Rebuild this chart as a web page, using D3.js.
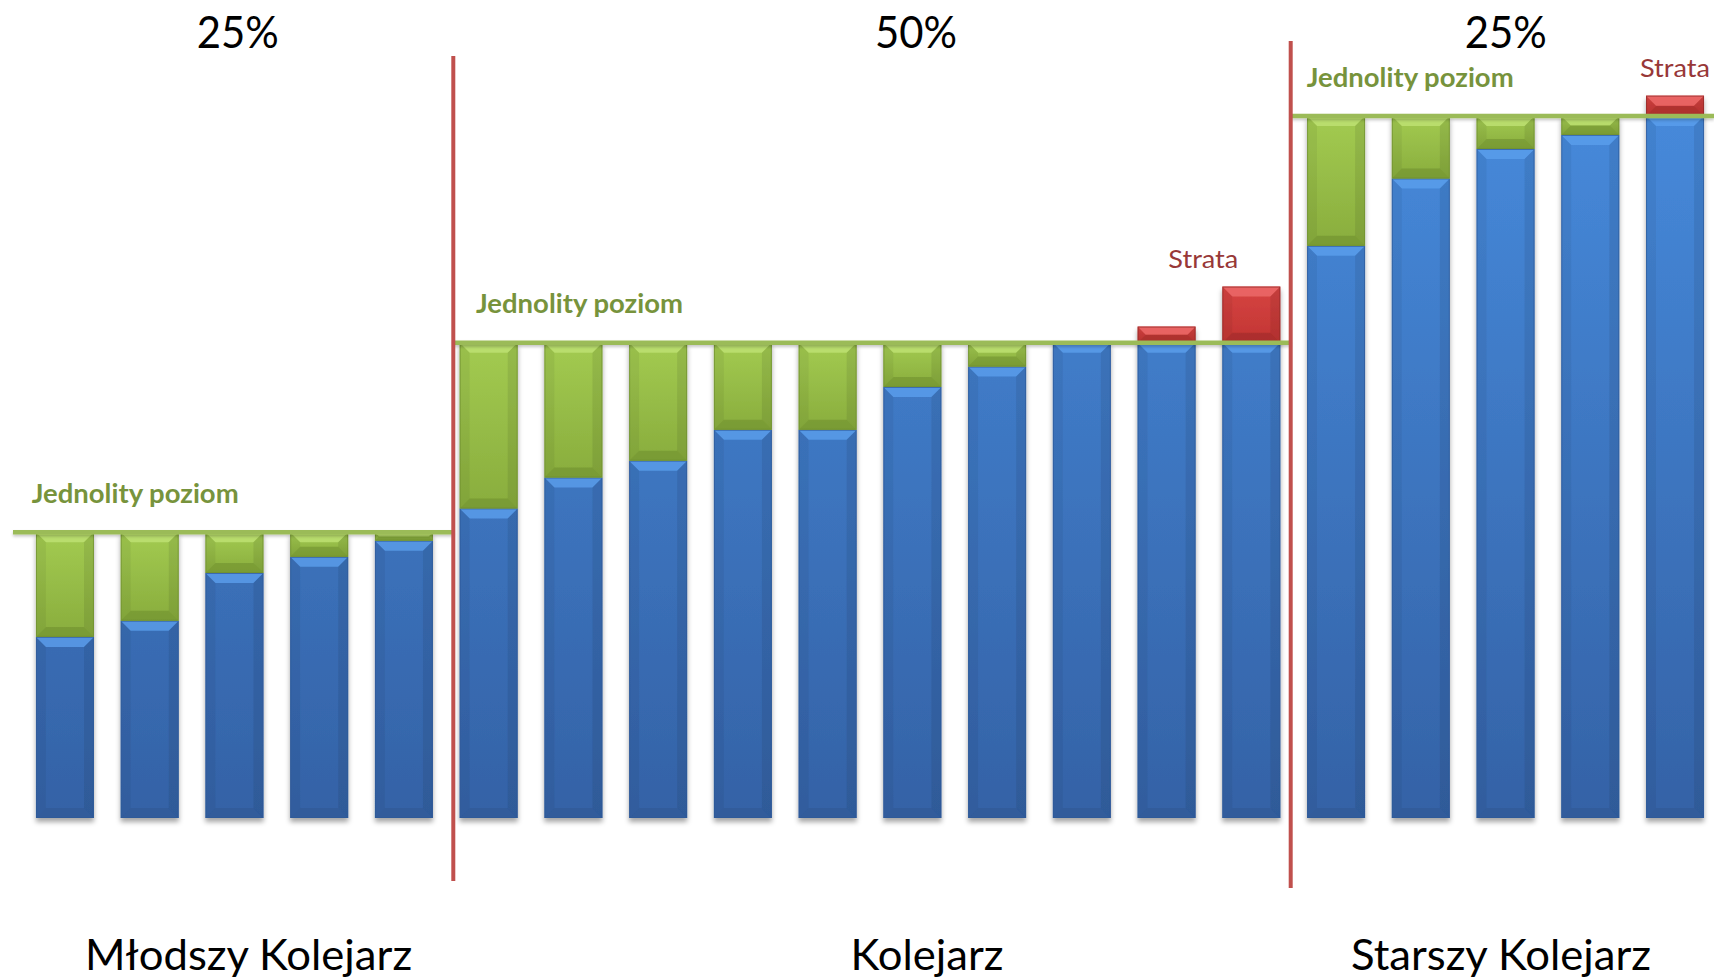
<!DOCTYPE html>
<html><head><meta charset="utf-8">
<script src="https://cdn.jsdelivr.net/npm/d3@7"></script>
<style>html,body{margin:0;padding:0;background:#fff;overflow:hidden} svg{display:block}</style>
</head><body><svg id="c" width="1714" height="980"></svg>
<script>
// ---------- DATA ----------
const groupNames  = ["Młodszy Kolejarz", "Kolejarz", "Starszy Kolejarz"];
const groupShares = ["25%", "50%", "25%"];
const groupLevels = [40.7, 67.7, 100];           // "Jednolity poziom" per group
const barGroups   = [0,0,0,0,0, 1,1,1,1,1,1,1,1,1,1, 2,2,2,2,2];
const barValues   = [25.8, 28.1, 34.9, 37.2, 39.5,
                     44.1, 48.5, 50.9, 55.3, 55.3, 61.4, 64.3, 67.7, 70.0, 75.7,
                     81.5, 91.1, 95.3, 97.3, 102.9];
const levelLabel = "Jednolity poziom";
const lossLabel  = "Strata";
const lossLabelBars = [14, 19];

// ---------- LAYOUT ----------
const W = 1714, H = 980;
const svg = d3.select("#c");
const x = d3.scaleBand().domain(d3.range(barValues.length))
  .range([22.6, 1717.4]).paddingInner(0.3156).paddingOuter(0.1578);
const y = d3.scaleLinear().domain([0, 100]).range([818, 116]);
const bw = x.bandwidth();

const defs = svg.append("defs");
const pal = {
  blue:  {top:"#4588d9", bot:"#3463a8", light:"#5b9fec", dark:"#2b538f", edge:"#2f5a98"},
  green: {top:"#a3cb51", bot:"#89ad3d", light:"#bfe274", dark:"#6a8a2c", edge:"#6f8f30"},
  red:   {top:"#d64442", bot:"#c23533", light:"#ee6d6b", dark:"#952826", edge:"#8f2a28"}
};
Object.entries(pal).forEach(([k, p]) => {
  const lg = defs.append("linearGradient").attr("id", "g-" + k)
    .attr("x1", 0).attr("y1", 0).attr("x2", 0).attr("y2", 1);
  lg.append("stop").attr("offset", "0%").attr("stop-color", p.top);
  lg.append("stop").attr("offset", "100%").attr("stop-color", p.bot);
});
const blueG = defs.append("linearGradient").attr("id", "g-bluebar")
  .attr("gradientUnits", "userSpaceOnUse").attr("x1", 0).attr("y1", 116).attr("x2", 0).attr("y2", 818);
blueG.append("stop").attr("offset", "0%").attr("stop-color", "#4689da");
blueG.append("stop").attr("offset", "100%").attr("stop-color", "#3462a6");

const sh = defs.append("filter").attr("id", "shadow").attr("x", "-20%").attr("y", "-20%").attr("width", "140%").attr("height", "140%");
sh.append("feDropShadow").attr("dx", 0).attr("dy", 4).attr("stdDeviation", 2.5)
  .attr("flood-color", "#000").attr("flood-opacity", 0.35);
const lsh = defs.append("filter").attr("id", "lshadow").attr("filterUnits", "userSpaceOnUse")
  .attr("x", 0).attr("y", 0).attr("width", W).attr("height", H);
lsh.append("feDropShadow").attr("dx", 0).attr("dy", 2).attr("stdDeviation", 1.5)
  .attr("flood-color", "#000").attr("flood-opacity", 0.22);

function segment(g, x0, w, yTop, yBot, p, fill) {
  const h = yBot - yTop;
  if (h <= 0.5) return;
  const b = Math.min(10, h / 2, w / 2);
  g.append("rect").attr("x", x0).attr("y", yTop).attr("width", w).attr("height", h).attr("fill", fill);
  const poly = pts => g.append("polygon").attr("points", pts.map(d => d.join(",")).join(" "));
  poly([[x0,yTop],[x0+w,yTop],[x0+w-b,yTop+b],[x0+b,yTop+b]]).attr("fill", p.light).attr("opacity", 0.8);
  poly([[x0,yBot],[x0+w,yBot],[x0+w-b,yBot-b],[x0+b,yBot-b]]).attr("fill", p.dark).attr("opacity", 0.5);
  poly([[x0,yTop],[x0+b,yTop+b],[x0+b,yBot-b],[x0,yBot]]).attr("fill", "#000").attr("opacity", 0.05);
  poly([[x0+w,yTop],[x0+w-b,yTop+b],[x0+w-b,yBot-b],[x0+w,yBot]]).attr("fill", "#000").attr("opacity", 0.08);
  g.append("rect").attr("x", x0 + 0.5).attr("y", yTop + 0.5).attr("width", w - 1).attr("height", h - 1)
    .attr("fill", "none").attr("stroke", p.edge).attr("stroke-width", 1).attr("opacity", 0.7);
}

// bars
const bars = svg.append("g");
barValues.forEach((v, i) => {
  const lvl = groupLevels[barGroups[i]];
  const blue = Math.min(v, lvl);
  const g = bars.append("g").attr("filter", "url(#shadow)");
  const x0 = x(i);
  segment(g, x0, bw, y(blue), y(0), pal.blue, "url(#g-bluebar)");
  if (v < lvl) segment(g, x0, bw, y(lvl), y(blue), pal.green, "url(#g-green)");
  if (v > lvl) segment(g, x0, bw, y(v), y(lvl), pal.red, "url(#g-red)");
});

// separators between groups
const firstIdx = groupNames.map((_, gi) => barGroups.indexOf(gi));
const lastIdx  = groupNames.map((_, gi) => barGroups.lastIndexOf(gi));
const sepNudge = [7, -3];
const sepTop = [56, 41], sepBot = [881, 888];
const sepX = [0, 1].map(k => (x(lastIdx[k]) + bw + x(firstIdx[k + 1])) / 2 + sepNudge[k]);

// level lines
const lineStart = [13, sepX[0], sepX[1] + 1];
const lineEnd   = [sepX[0], sepX[1], W];
svg.append("g").attr("filter", "url(#lshadow)").selectAll("line").data(groupLevels).join("line")
  .attr("x1", (d, i) => lineStart[i]).attr("x2", (d, i) => lineEnd[i])
  .attr("y1", d => y(d)).attr("y2", d => y(d))
  .attr("stroke", "#9bbb59").attr("stroke-width", 4.5);

svg.append("g").selectAll("line").data(sepX).join("line")
  .attr("x1", d => d).attr("x2", d => d)
  .attr("y1", (d, i) => sepTop[i]).attr("y2", (d, i) => sepBot[i])
  .attr("stroke", "#c0504d").attr("stroke-width", 4);

// texts
const FONT = "Lato, 'Open Sans', sans-serif";
const shareX = [237.7, 916, 1505.8];
svg.append("g").selectAll("text").data(groupShares).join("text")
  .attr("x", (d, i) => shareX[i]).attr("y", 48).attr("text-anchor", "middle")
  .attr("font-family", FONT).attr("font-size", 44).attr("fill", "#000")
  .attr("textLength", 82).attr("lengthAdjust", "spacingAndGlyphs").text(d => d);

const nameX = [248.6, 927, 1501], nameLen = [327, 153, 300];
svg.append("g").selectAll("text").data(groupNames).join("text")
  .attr("x", (d, i) => nameX[i]).attr("y", 970).attr("text-anchor", "middle")
  .attr("font-family", FONT).attr("font-size", 43).attr("fill", "#000")
  .attr("textLength", (d, i) => nameLen[i]).attr("lengthAdjust", "spacingAndGlyphs").text(d => d);

const lvlLabelX = [31.7, 476, 1306.7];
svg.append("g").selectAll("text").data(groupLevels).join("text")
  .attr("x", (d, i) => lvlLabelX[i]).attr("y", d => y(d) - 29.5)
  .attr("font-family", FONT).attr("font-size", 26).attr("font-weight", "bold").attr("fill", "#77933c")
  .attr("textLength", 207).attr("lengthAdjust", "spacingAndGlyphs").text(levelLabel);

const lossNudge = [-48, 0];
svg.append("g").selectAll("text").data(lossLabelBars).join("text")
  .attr("x", (d, i) => x(d) + bw / 2 + lossNudge[i]).attr("y", d => y(barValues[d]) - 18.7)
  .attr("text-anchor", "middle")
  .attr("font-family", FONT).attr("font-size", 25).attr("fill", "#983838")
  .attr("textLength", 70).attr("lengthAdjust", "spacingAndGlyphs").text(lossLabel);
</script>
</body></html>
